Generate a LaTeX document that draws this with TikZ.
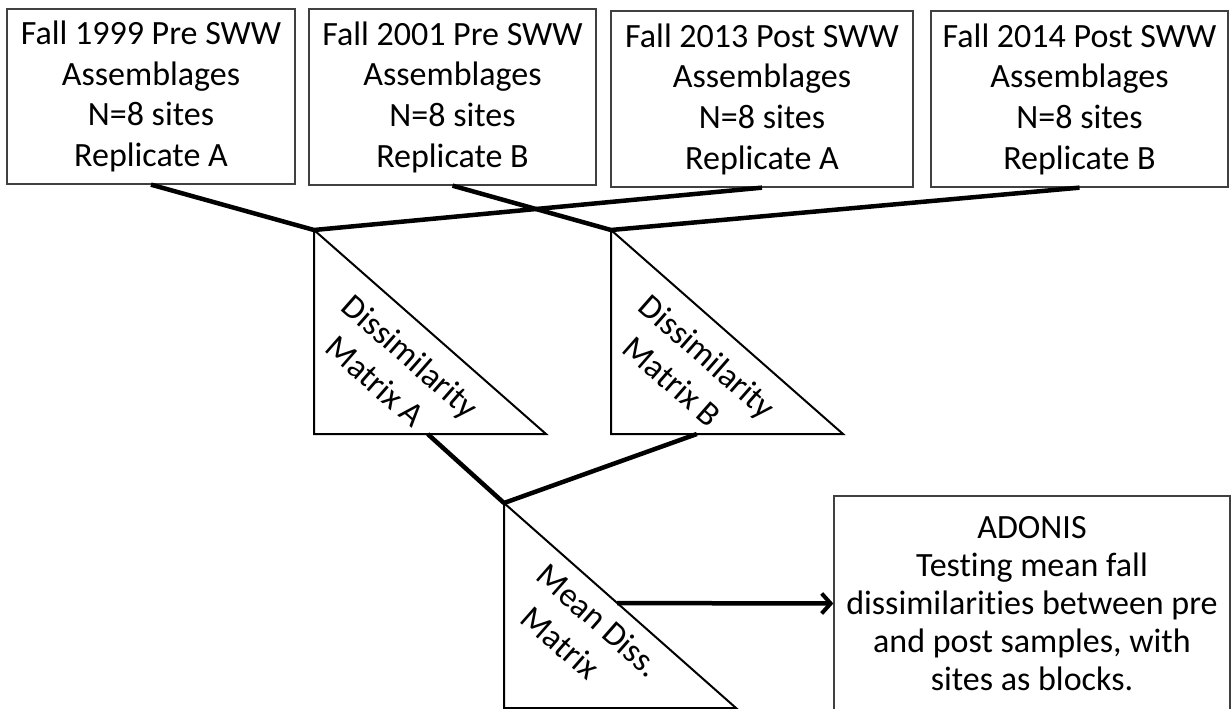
\documentclass[tikz,border=0pt]{standalone}
\usepackage{fontspec}
\setmainfont{Carlito}[RawFeature={-liga}]
\usetikzlibrary{arrows.meta,calc}
\begin{document}
\begin{tikzpicture}[x=1pt,y=-1pt,
  txt/.style={font=\fontsize{34}{40.7}\selectfont, align=center, inner sep=0pt},
  rtxt/.style={txt, rotate=-41.3, font=\fontsize{34}{42}\selectfont},
  box/.style={txt, draw=black!75, line width=1.3pt},
  tri/.style={draw=black, line width=2pt, line join=miter},
  conn/.style={draw=black, line width=4.5pt, line join=round},
  arr/.style={conn, -{Straight Barb[length=9pt,width=20pt,line width=4pt]}}]
\useasboundingbox (0,0) rectangle (1231,709);
\fill[white] (0,0) rectangle (1231,709);

% top boxes
\node[box, minimum width=288pt, minimum height=175pt] (b1) at (151,96.5)
  {Fall 1999 Pre SWW\\Assemblages\\N=8 sites\\Replicate A};
\node[box, minimum width=287pt, minimum height=176pt] (b2) at (452.5,97)
  {Fall 2001 Pre SWW\\Assemblages\\N=8 sites\\Replicate B};
\node[box, minimum width=302pt, minimum height=176pt] (b3) at (762,99)
  {Fall 2013 Post SWW\\Assemblages\\N=8 sites\\Replicate A};
\node[box, minimum width=297pt, minimum height=176pt] (b4) at (1079.5,99)
  {Fall 2014 Post SWW\\Assemblages\\N=8 sites\\Replicate B};

% triangles
\coordinate (At) at (314,230); \coordinate (Abl) at (314,434); \coordinate (Abr) at (546,434);
\coordinate (Bt) at (611,230); \coordinate (Bbl) at (611,434); \coordinate (Bbr) at (843,434);
\coordinate (Mt) at (504,503); \coordinate (Mbl) at (504,708); \coordinate (Mbr) at (736,708);
\draw[tri] (At) -- (Abl) -- (Abr) -- cycle;
\draw[tri] (Bt) -- (Bbl) -- (Bbr) -- cycle;
\draw[tri] (Mt) -- (Mbl) -- (Mbr) -- cycle;

\node[rtxt] (ta) at (397,372) {Dissimilarity\\Matrix A\hspace*{20pt}};
\node[rtxt] (tb) at (694,372) {Dissimilarity\\Matrix B\hspace*{20pt}};
\node[rtxt] (tm) at (585,636) {Mean Diss.\\Matrix\hspace*{28pt}};

% ADONIS box
\node[box, minimum width=396pt, minimum height=215pt, font=\fontsize{34}{38}\selectfont] (ad) at (1032,603.5)
  {ADONIS\\Testing mean fall\\dissimilarities between pre\\and post samples, with\\sites as blocks.};

% connectors
\coordinate (Abot) at ($(Abl)!0.49!(Abr)$);
\coordinate (Bbot) at ($(Bbl)!0.37!(Bbr)$);
\coordinate (Mhyp) at ($(Mt)!0.488!(Mbr)$);
\draw[conn] (b1.south) -- (At) -- (b3.south);
\draw[conn] (b2.south) -- (Bt) -- (b4.south);
\draw[conn] (Abot) -- (Mt) -- (Bbot);
\draw[arr] (Mhyp) -- (ad.west);
\end{tikzpicture}
\end{document}
